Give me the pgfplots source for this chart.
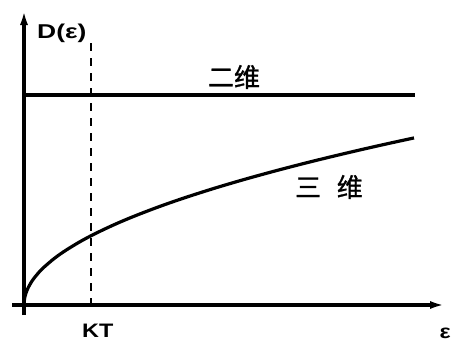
\documentclass[border=0pt]{standalone}
\usepackage{pgfplots}
\pgfplotsset{compat=1.18}
\usepackage{fontspec}
\setmainfont{Liberation Sans}
\newfontfamily\labf{Liberation Sans}[FakeStretch=1.2]
\newfontfamily\labw{Liberation Sans}[FakeStretch=1.32]
\newfontfamily\cjk{Noto Sans CJK SC}[FakeBold=1.2]
\usetikzlibrary{arrows.meta}

% density of states: 3D grows as sqrt(energy), 2D is constant
\pgfplotstableread{
e    D
0    0
0.5  5.98
1    8.46
2    11.96
4    16.92
7    22.38
10   26.75
15   32.77
20   37.83
30   46.34
40   53.51
55   62.74
70   70.78
90   80.26
110  88.73
135  98.30
160  107.01
190  116.61
220  125.48
250  133.76
280  141.56
310  148.95
340  156.00
365  161.63
390  167.07
}\threeD

\pgfplotstableread{
e    D
0    210
391  210
}\twoD

\pgfplotstableread{
e   D
67  262
67  -4
}\kT

\newcommand\labfont{\labf\bfseries\fontsize{19.5bp}{22bp}\selectfont}
\newcommand\dosfont{\labw\bfseries\fontsize{20bp}{22bp}\selectfont}
\newcommand\cjkfont{\cjk\fontsize{26bp}{28bp}\selectfont}

\begin{document}
\begin{tikzpicture}
\begin{axis}[
  x=1bp, y=1bp,
  xmin=-12, xmax=421, ymin=-10, ymax=295,
  axis lines=middle,
  axis line style={line width=3.2bp, -{Latex[length=15bp,width=8bp]}},
  xtick=\empty, ytick=\empty,
  clip=false,
]
\addplot[black, line width=3.2bp, smooth] table[x=e, y=D] {\threeD};
\addplot[black, line width=3.4bp] table[x=e, y=D] {\twoD};
\addplot[black, line width=2.8bp, dash pattern=on 8bp off 7bp] table[x=e, y=D] {\kT};

\node[font=\dosfont, inner sep=0pt, anchor=base west] at (axis cs:13,267) {D(ε)};
\node[font=\cjkfont, inner sep=0pt] at (axis cs:210,228) {二维};
\node[font=\cjkfont, inner sep=0pt] at (axis cs:305,118) {三\hspace{0.6em}维};
\node[font=\labfont, inner sep=0pt, anchor=base west] at (axis cs:58,-32) {KT};
\node[font=\labfont, inner sep=0pt, anchor=north east] at (axis cs:427,-23) {ε};

\coordinate (bl) at (axis cs:-24,-38);
\coordinate (tr) at (axis cs:427,305);
\end{axis}
\pgfresetboundingbox
\path[use as bounding box] (bl) rectangle (tr);
\end{tikzpicture}
\end{document}
